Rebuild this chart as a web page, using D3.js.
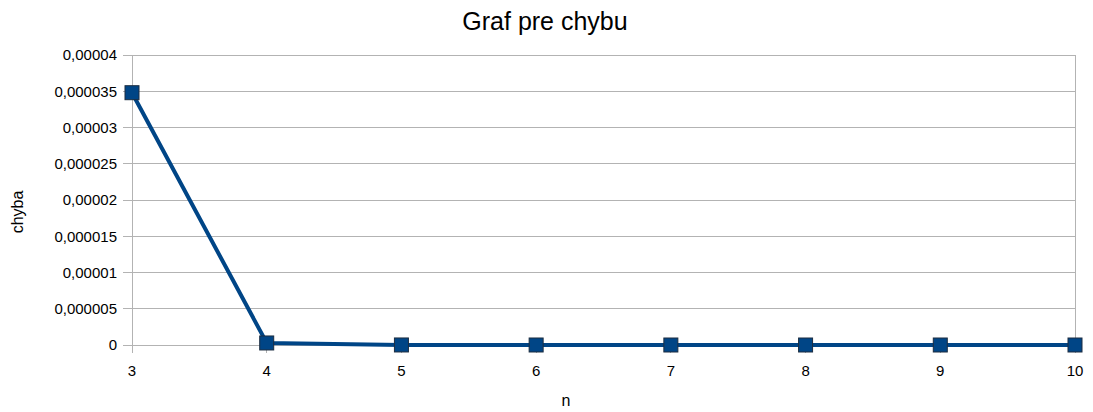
<!DOCTYPE html>
<html><head><meta charset="utf-8">
<script src="https://cdn.jsdelivr.net/npm/d3@7"></script>
<style>body{margin:0;background:#fff}svg{display:block;font-family:"Liberation Sans",Arial,sans-serif}</style>
</head><body><svg id="c" width="1093" height="412"></svg>
<script>
const categories = [3, 4, 5, 6, 7, 8, 9, 10];
const values = [0.0000348, 0.00000028, 0.000000005, 0.000000001, 0, 0, 0, 0];
const yTicks = [0, 0.000005, 0.00001, 0.000015, 0.00002, 0.000025, 0.00003, 0.000035, 0.00004];
const yTickLabels = ["0", "0,000005", "0,00001", "0,000015", "0,00002", "0,000025", "0,00003", "0,000035", "0,00004"];
const title = "Graf pre chybu", xTitle = "n", yTitle = "chyba";

const svg = d3.select("#c");
const L = 132, R = 1075, T = 55, B = 345;
const x = d3.scaleLinear().domain([3, 10]).range([L, R]);
const y = d3.scaleLinear().domain([0, 0.00004]).range([B, T]);

svg.append("g").selectAll("line").data(yTicks).join("line")
  .attr("x1", L - 9).attr("x2", R).attr("y1", d => y(d)).attr("y2", d => y(d))
  .attr("stroke", "#b3b3b3").attr("stroke-width", 1).attr("shape-rendering", "crispEdges");
svg.append("line").attr("x1", L).attr("x2", L).attr("y1", T).attr("y2", B + 8)
  .attr("stroke", "#b3b3b3").attr("shape-rendering", "crispEdges");
svg.append("line").attr("x1", R).attr("x2", R).attr("y1", T).attr("y2", B + 8)
  .attr("stroke", "#b3b3b3").attr("shape-rendering", "crispEdges");
svg.append("g").selectAll("line").data(categories).join("line")
  .attr("x1", d => x(d)).attr("x2", d => x(d)).attr("y1", B).attr("y2", B + 8)
  .attr("stroke", "#b3b3b3").attr("shape-rendering", "crispEdges");

svg.append("g").selectAll("text").data(yTicks).join("text")
  .attr("x", 117).attr("y", d => y(d)).attr("dy", "0.35em").attr("text-anchor", "end")
  .attr("font-size", 15).attr("fill", "#000").text((d, i) => yTickLabels[i]);
svg.append("g").selectAll("text").data(categories).join("text")
  .attr("x", d => x(d)).attr("y", 376).attr("text-anchor", "middle")
  .attr("font-size", 15).attr("fill", "#000").text(d => d);

svg.append("path").datum(categories.map((c, i) => [c, values[i]]))
  .attr("d", d3.line().x(d => x(d[0])).y(d => y(d[1])))
  .attr("fill", "none").attr("stroke", "#004586").attr("stroke-width", 4).attr("stroke-linejoin", "round");
svg.append("g").selectAll("rect").data(categories).join("rect")
  .attr("x", d => x(d) - 7).attr("y", (d, i) => y(values[i]) - 7)
  .attr("width", 14).attr("height", 14)
  .attr("fill", "#004586").attr("stroke", "#1c2d40").attr("stroke-width", 1);

svg.append("text").attr("x", 545).attr("y", 30).attr("text-anchor", "middle")
  .attr("font-size", 25).attr("fill", "#000").text(title);
svg.append("text").attr("x", 566).attr("y", 406).attr("text-anchor", "middle")
  .attr("font-size", 16).attr("fill", "#000").text(xTitle);
svg.append("text").attr("transform", "translate(23,212) rotate(-90)").attr("text-anchor", "middle")
  .attr("font-size", 16).attr("fill", "#000").text(yTitle);
</script></body></html>
